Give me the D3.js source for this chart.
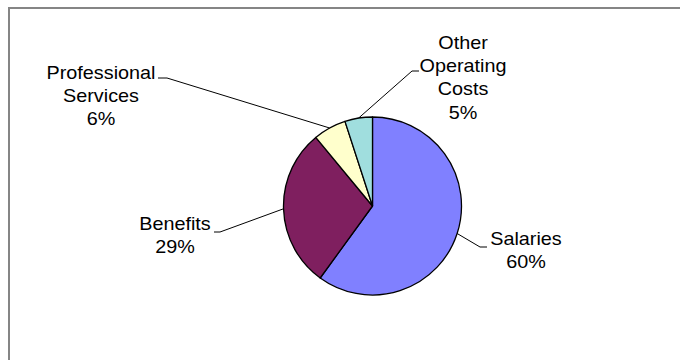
<!DOCTYPE html>
<html>
<head>
<meta charset="utf-8">
<script src="https://cdn.jsdelivr.net/npm/d3@7"></script>
<style>
  html, body { margin: 0; padding: 0; background: #fff; }
  svg { display: block; }
  text { font-family: "Liberation Sans", Arial, sans-serif; fill: #000; }
</style>
</head>
<body>
<svg id="chart" width="680" height="360"></svg>
<script>
// Budget breakdown by expense category (percent of total)
const categories = ["Salaries", "Benefits", "Professional Services", "Other Operating Costs"];
const values = [60, 29, 6, 5];
const labelLines = [["Salaries"], ["Benefits"], ["Professional", "Services"], ["Other", "Operating", "Costs"]];
const colors = ["#8080FF", "#7F1F5F", "#FFFFCC", "#A0DEDE"];

// Manual label placement: text centre x, first baseline y, leader elbow and tail
const labelLayout = [
  { x: 526, y: 244.5, ex: 480, ey: 247, hx: 487 },
  { x: 175, y: 229.5, ex: 220, ey: 232, hx: 214 },
  { x: 101, y: 78.5,  ex: 167, ey: 78,  hx: 158 },
  { x: 463, y: 48.5,  ex: 412, ey: 71,  hx: 419 }
];

const svg = d3.select("#chart");
const cx = 372.5, cy = 206, r = 89;
const lineGap = 23.5;

// Frame
svg.append("rect")
  .attr("x", 9).attr("y", 8).attr("width", 720).attr("height", 400)
  .attr("fill", "none").attr("stroke", "#858585").attr("stroke-width", 2);

const data = categories.map((c, i) => ({ name: c, value: values[i], lines: labelLines[i], color: colors[i], layout: labelLayout[i] }));

const pie = d3.pie().sort(null).value(d => d.value);
const arc = d3.arc().innerRadius(0).outerRadius(r);
const arcs = pie(data);

const g = svg.append("g").attr("transform", `translate(${cx},${cy})`);
g.selectAll("path.slice")
  .data(arcs)
  .join("path")
  .attr("class", "slice")
  .attr("d", arc)
  .attr("fill", d => d.data.color)
  .attr("stroke", "#000")
  .attr("stroke-width", 1.3)
  .attr("stroke-linejoin", "round");

// Leader lines from slice mid-angle on the rim to the label
svg.selectAll("path.leader")
  .data(arcs)
  .join("path")
  .attr("class", "leader")
  .attr("fill", "none")
  .attr("stroke", "#000")
  .attr("stroke-width", 1)
  .attr("d", d => {
    const a = (d.startAngle + d.endAngle) / 2;
    const px = cx + r * Math.sin(a), py = cy - r * Math.cos(a);
    const L = d.data.layout;
    return d3.line()([[px, py], [L.ex, L.ey], [L.hx, L.ey]]);
  });

// Labels: category name lines followed by the percentage
const fmt = d3.format(".0%");
const labels = svg.selectAll("g.label")
  .data(arcs)
  .join("g")
  .attr("class", "label")
  .attr("transform", d => `translate(${d.data.layout.x},${d.data.layout.y}) scale(1.1,1)`);

labels.each(function(d) {
  const lines = d.data.lines.concat([fmt(d.data.value / 100)]);
  d3.select(this).selectAll("text")
    .data(lines)
    .join("text")
    .attr("x", 0)
    .attr("y", (t, i) => i * lineGap)
    .attr("text-anchor", "middle")
    .attr("font-size", "18px")
    .text(t => t);
});
</script>
</body>
</html>
